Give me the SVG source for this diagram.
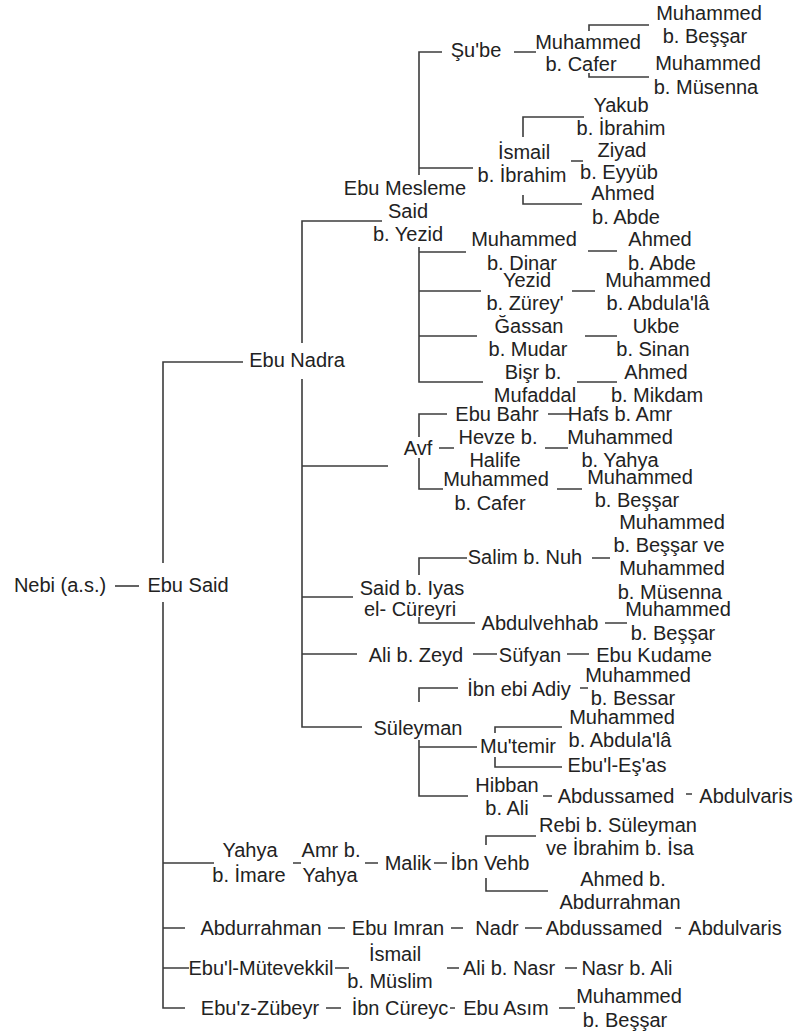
<svg xmlns="http://www.w3.org/2000/svg" width="797" height="1034" viewBox="0 0 797 1034">
<style>
text{font-family:"Liberation Sans",Arial,sans-serif;font-size:20px;fill:#222;text-anchor:middle}
.c path{fill:none;stroke:#3c3c3c;stroke-width:1.6}
</style>
<rect width="797" height="1034" fill="#fff"/>
<g class="c" id="connectors">
<path d="M115,586H139"/>
<path d="M163,563V362H243M163,602V1008H185M163,863H214M163,928H185M163,968H189"/>
<path d="M302,343V221H382M302,379V727H362M302,466H388M302,597H353M302,654H357"/>
<path d="M419,175V52H442M419,168H473M514,52H536"/>
<path d="M589,31V25H649M589,73V77H649"/>
<path d="M523,137V117H584M571,161H583M523,195V204H582"/>
<path d="M419,247V382H483M419,252H466M419,291H481M419,336H477"/>
<path d="M588,251H617M572,291H595M585,336H617M577,382H617"/>
<path d="M419,437V414H447M419,458V489H443M439,448H454M548,414H570M545,448H568M557,489H582"/>
<path d="M419,575V558H467M419,617V623H475M592,558H610M605,623H627"/>
<path d="M473,654H497M567,654H589"/>
<path d="M419,702V688H458M580,688H588M419,740V796H468M419,747H477"/>
<path d="M495,733V727H562M495,757V767H562M543,796H552M686,794H692"/>
<path d="M293,863H301M365,863H378M434,863H447M486,845V836H536M486,878V891H548"/>
<path d="M328,928H345M451,928H463M525,928H542M675,928H681"/>
<path d="M335,968H349M447,968H459M565,968H577"/>
<path d="M326,1008H341M450,1008H455M559,1008H575"/>
</g>
<g id="n_nebi"><text x="60" y="592">Nebi (a.s.)</text></g>
<g id="n_ebusaid"><text x="188" y="592">Ebu Said</text></g>
<g id="n_ebunadra"><text x="297" y="367">Ebu Nadra</text></g>
<g id="n_ebumesleme"><text x="405" y="195">Ebu Mesleme</text><text x="408" y="218">Said</text><text x="408" y="241">b. Yezid</text></g>
<g id="n_sube"><text x="476" y="57">Şu'be</text></g>
<g id="n_mcafer1"><text x="588" y="49">Muhammed</text><text x="581" y="71">b. Cafer</text></g>
<g id="n_mbessar1"><text x="709" y="20">Muhammed</text><text x="705" y="43">b. Beşşar</text></g>
<g id="n_mmusenna1"><text x="708" y="70">Muhammed</text><text x="706" y="94">b. Müsenna</text></g>
<g id="n_ismail"><text x="524" y="159">İsmail</text><text x="522" y="182">b. İbrahim</text></g>
<g id="n_yakub"><text x="621" y="112">Yakub</text><text x="621" y="135">b. İbrahim</text></g>
<g id="n_ziyad"><text x="622" y="157">Ziyad</text><text x="619" y="179">b. Eyyüb</text></g>
<g id="n_ahmedabde1"><text x="623" y="200">Ahmed</text><text x="626" y="224">b. Abde</text></g>
<g id="n_mdinar"><text x="524" y="246">Muhammed</text><text x="522" y="270">b. Dinar</text></g>
<g id="n_ahmedabde2"><text x="660" y="246">Ahmed</text><text x="662" y="270">b. Abde</text></g>
<g id="n_yezid"><text x="527" y="287">Yezid</text><text x="525" y="310">b. Zürey'</text></g>
<g id="n_mabdulala1"><text x="658" y="287">Muhammed</text><text x="658" y="310">b. Abdula'lâ</text></g>
<g id="n_gassan"><text x="529" y="333">Ğassan</text><text x="528" y="356">b. Mudar</text></g>
<g id="n_ukbe"><text x="656" y="333">Ukbe</text><text x="653" y="356">b. Sinan</text></g>
<g id="n_bisr"><text x="533" y="379">Bişr b.</text><text x="535" y="402">Mufaddal</text></g>
<g id="n_ahmedmikdam"><text x="656" y="379">Ahmed</text><text x="657" y="402">b. Mikdam</text></g>
<g id="n_avf"><text x="418" y="455">Avf</text></g>
<g id="n_ebubahr"><text x="497" y="421">Ebu Bahr</text></g>
<g id="n_hafs"><text x="620" y="421">Hafs b. Amr</text></g>
<g id="n_hevze"><text x="498" y="444">Hevze b.</text><text x="495" y="467">Halife</text></g>
<g id="n_myahya"><text x="620" y="444">Muhammed</text><text x="620" y="467">b. Yahya</text></g>
<g id="n_mcafer2"><text x="496" y="486">Muhammed</text><text x="490" y="510">b. Cafer</text></g>
<g id="n_mbessar2"><text x="640" y="484">Muhammed</text><text x="637" y="507">b. Beşşar</text></g>
<g id="n_saidiyas"><text x="412" y="595">Said b. Iyas</text><text x="410" y="616">el- Cüreyri</text></g>
<g id="n_salim"><text x="525" y="564">Salim b. Nuh</text></g>
<g id="n_mbessarve"><text x="672" y="529">Muhammed</text><text x="669" y="552">b. Beşşar ve</text><text x="672" y="575">Muhammed</text><text x="670" y="599">b. Müsenna</text></g>
<g id="n_abdulvehhab"><text x="540" y="630">Abdulvehhab</text></g>
<g id="n_mbessar3"><text x="678" y="616">Muhammed</text><text x="673" y="640">b. Beşşar</text></g>
<g id="n_alizeyd"><text x="416" y="662">Ali b. Zeyd</text></g>
<g id="n_sufyan"><text x="530" y="662">Süfyan</text></g>
<g id="n_ebukudame"><text x="654" y="662">Ebu Kudame</text></g>
<g id="n_suleyman"><text x="418" y="735">Süleyman</text></g>
<g id="n_ibnebiadiy"><text x="519" y="696">İbn ebi Adiy</text></g>
<g id="n_mbessar4"><text x="638" y="682">Muhammed</text><text x="633" y="705">b. Bessar</text></g>
<g id="n_mutemir"><text x="518" y="753">Mu'temir</text></g>
<g id="n_mabdulala2"><text x="622" y="724">Muhammed</text><text x="620" y="747">b. Abdula'lâ</text></g>
<g id="n_ebulesas"><text x="617" y="772">Ebu'l-Eş'as</text></g>
<g id="n_hibban"><text x="507" y="792">Hibban</text><text x="507" y="815">b. Ali</text></g>
<g id="n_abdussamed1"><text x="616" y="803">Abdussamed</text></g>
<g id="n_abdulvaris1"><text x="746" y="803">Abdulvaris</text></g>
<g id="n_yahya"><text x="250" y="857">Yahya</text><text x="249" y="882">b. İmare</text></g>
<g id="n_amr"><text x="331" y="857">Amr b.</text><text x="330" y="882">Yahya</text></g>
<g id="n_malik"><text x="408" y="870">Malik</text></g>
<g id="n_ibnvehb"><text x="490" y="870">İbn Vehb</text></g>
<g id="n_rebi"><text x="618" y="832">Rebi b. Süleyman</text><text x="620" y="855">ve İbrahim b. İsa</text></g>
<g id="n_ahmedabdurrahman"><text x="623" y="886">Ahmed b.</text><text x="620" y="909">Abdurrahman</text></g>
<g id="n_abdurrahman"><text x="261" y="935">Abdurrahman</text></g>
<g id="n_ebuimran"><text x="398" y="935">Ebu Imran</text></g>
<g id="n_nadr"><text x="497" y="935">Nadr</text></g>
<g id="n_abdussamed2"><text x="604" y="935">Abdussamed</text></g>
<g id="n_abdulvaris2"><text x="735" y="935">Abdulvaris</text></g>
<g id="n_ebulmutevekkil"><text x="261" y="975">Ebu'l-Mütevekkil</text></g>
<g id="n_ismailmuslim"><text x="395" y="961">İsmail</text><text x="390" y="988">b. Müslim</text></g>
<g id="n_alinasr"><text x="509" y="975">Ali b. Nasr</text></g>
<g id="n_nasrali"><text x="627" y="975">Nasr b. Ali</text></g>
<g id="n_ebuzzubeyr"><text x="260" y="1015">Ebu'z-Zübeyr</text></g>
<g id="n_ibncureyc"><text x="400" y="1015">İbn Cüreyc</text></g>
<g id="n_ebuasim"><text x="506" y="1015">Ebu Asım</text></g>
<g id="n_mbessar5"><text x="629" y="1003">Muhammed</text><text x="625" y="1027">b. Beşşar</text></g>
</svg>
